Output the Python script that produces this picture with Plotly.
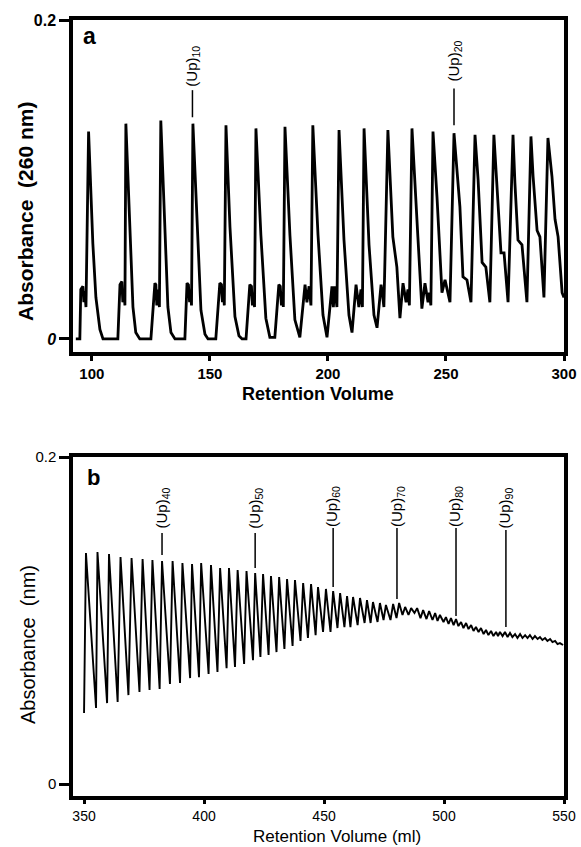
import plotly.graph_objects as go

# ---------------- Panel a : (Up)n oligomers, 92-300 ml ----------------
a_x = [93.2, 94.9, 95.3, 96.2, 96.6, 97.0, 97.5, 98.6, 100.4, 101.7, 103.4, 104.7, 111.0,
       111.9, 112.7, 113.1, 113.6, 114.0, 114.4, 116.1, 117.4, 118.6, 120.3, 125.0,
       126.7, 127.1, 127.5, 128.0, 128.6, 129.2, 130.9, 132.2, 133.5, 135.2, 139.4,
       140.3, 140.9, 141.4, 141.8, 142.2, 142.8, 144.9, 146.2, 147.9, 149.2, 152.5,
       154.2, 154.9, 155.3, 155.7, 156.1, 156.8, 158.5, 160.6, 162.3, 163.6, 165.3,
       166.9, 167.6, 168.0, 168.4, 168.9, 169.5, 171.6, 173.7, 175.4, 177.5,
       179.2, 179.8, 180.3, 180.7, 181.1, 181.8, 183.9, 186.0, 188.1,
       190.3, 191.1, 192.0, 192.8, 193.6, 195.8, 197.9, 199.6,
       201.7, 202.3, 202.9, 203.8, 204.7, 206.8, 208.9, 210.2,
       211.9, 213.1, 214.0, 214.6, 215.3, 217.4, 219.5, 220.8,
       222.5, 223.1, 223.7, 225.4, 226.3, 227.5, 229.2, 230.5,
       231.8, 233.1, 233.9, 234.5, 235.6, 236.9, 238.1, 239.8,
       241.1, 242.4, 243.0, 243.6, 244.5, 246.2, 248.3, 249.6, 251.7,
       253.4, 255.9, 257.2, 258.9, 260.6,
       262.3, 263.6, 265.3, 266.9, 268.6,
       270.3, 272.0, 273.3, 274.6, 276.3,
       278.4, 279.2, 280.5, 282.2, 284.3,
       286.0, 286.9, 288.6, 289.8, 291.5,
       293.2, 294.9, 296.2, 297.5, 299.2, 300.0]
a_y = [0.0, 0.0, 0.031, 0.033, 0.023, 0.030, 0.020, 0.130, 0.060, 0.026, 0.006, 0.0, 0.0,
       0.034, 0.036, 0.023, 0.031, 0.021, 0.135, 0.064, 0.020, 0.004, 0.0, 0.0,
       0.035, 0.034, 0.021, 0.031, 0.020, 0.137, 0.066, 0.020, 0.004, 0.0, 0.0,
       0.035, 0.034, 0.023, 0.031, 0.021, 0.135, 0.060, 0.018, 0.003, 0.0, 0.0,
       0.035, 0.034, 0.023, 0.031, 0.021, 0.134, 0.070, 0.014, 0.002, 0.0, 0.0,
       0.034, 0.033, 0.021, 0.029, 0.020, 0.132, 0.065, 0.013, 0.001, 0.001,
       0.034, 0.033, 0.021, 0.029, 0.020, 0.133, 0.065, 0.012, 0.001,
       0.034, 0.023, 0.033, 0.021, 0.134, 0.065, 0.015, 0.001,
       0.033, 0.020, 0.033, 0.020, 0.131, 0.062, 0.015, 0.004,
       0.034, 0.020, 0.031, 0.020, 0.132, 0.059, 0.015, 0.007,
       0.034, 0.028, 0.020, 0.131, 0.102, 0.064, 0.045, 0.013,
       0.035, 0.023, 0.031, 0.021, 0.132, 0.092, 0.064, 0.019,
       0.035, 0.023, 0.029, 0.021, 0.130, 0.089, 0.029, 0.037, 0.023,
       0.129, 0.083, 0.039, 0.037, 0.023,
       0.128, 0.100, 0.048, 0.045, 0.023,
       0.128, 0.089, 0.054, 0.054, 0.023,
       0.128, 0.098, 0.062, 0.059, 0.023,
       0.127, 0.102, 0.068, 0.064, 0.026,
       0.126, 0.102, 0.075, 0.064, 0.029, 0.026]
assert len(a_x) == len(a_y), (len(a_x), len(a_y))

a_labels = ["(Up)<sub>10</sub>", "(Up)<sub>20</sub>"]
a_label_x = [142.6, 253.4]
a_label_line_top = [0.156, 0.157]
a_label_line_bottom = [0.139, 0.134]
a_label_text_y = [0.171, 0.174]

# ---------------- Panel b : (Up)33 ... (Up)100, 345-550 ml ----------------
b_peak_x = [350.8, 355.6, 360.4, 365.2, 369.8, 374.4, 378.5, 382.5, 386.9, 391.0,
            395.0, 398.8, 402.9, 406.7, 410.4, 414.0, 417.7, 421.3, 424.6, 427.9,
            431.3, 434.6, 437.9, 441.3, 444.6, 447.5, 450.8, 453.8, 456.7, 459.6,
            462.1, 465.0, 467.9, 470.4, 473.3, 475.8, 478.8, 481.3, 483.8, 486.3,
            488.8, 491.3, 493.8, 496.3, 498.3, 500.8, 502.9, 505.0, 507.1, 509.2,
            511.3, 513.3, 515.4, 517.5, 519.6, 521.7, 523.3, 525.4, 527.5, 529.6,
            531.7, 533.8, 535.8, 537.9, 540.0, 542.1, 544.2, 546.3, 548.3]
b_peak_y = [0.1413, 0.1419, 0.1407, 0.1388, 0.1382, 0.1376, 0.1370, 0.1364, 0.1364, 0.1352,
            0.1346, 0.1352, 0.1339, 0.1321, 0.1321, 0.1309, 0.1303, 0.1291, 0.1284, 0.1272,
            0.1266, 0.1254, 0.1248, 0.1229, 0.1223, 0.1205, 0.1193, 0.1180, 0.1168, 0.1150,
            0.1144, 0.1138, 0.1125, 0.1113, 0.1107, 0.1095, 0.1101, 0.1107, 0.1083, 0.1076,
            0.1076, 0.1064, 0.1058, 0.1046, 0.1034, 0.1021, 0.1015, 0.1009, 0.0991, 0.0985,
            0.0972, 0.0960, 0.0954, 0.0942, 0.0936, 0.0930, 0.0930, 0.0930, 0.0924, 0.0917,
            0.0917, 0.0911, 0.0911, 0.0905, 0.0899, 0.0893, 0.0887, 0.0875, 0.0862]
b_trough_x = [350.0, 355.0, 359.6, 364.0, 368.5, 373.1, 377.3, 381.5, 385.8, 390.0,
              394.2, 397.9, 401.9, 405.6, 409.4, 412.9, 416.7, 420.4, 423.5, 426.9,
              430.2, 433.5, 436.9, 440.2, 443.3, 446.5, 449.6, 452.7, 455.6, 458.5,
              461.0, 464.0, 466.9, 469.4, 472.3, 474.8, 477.7, 480.2, 482.7, 485.2,
              487.7, 490.2, 492.7, 495.2, 497.3, 499.8, 501.9, 504.0, 506.0, 508.1,
              510.2, 512.3, 514.4, 516.5, 518.5, 520.6, 522.5, 524.4, 526.5, 528.5,
              530.6, 532.7, 534.8, 536.9, 539.0, 541.0, 543.1, 545.2, 547.3, 549.6]
b_trough_y = [0.0434, 0.0465, 0.0495, 0.0502, 0.0544, 0.0563, 0.0575, 0.0581, 0.0612, 0.0618,
              0.0648, 0.0654, 0.0673, 0.0685, 0.0709, 0.0716, 0.0734, 0.0758, 0.0777, 0.0789,
              0.0807, 0.0826, 0.0844, 0.0875, 0.0893, 0.0911, 0.0930, 0.0930, 0.0954, 0.0960,
              0.0960, 0.0972, 0.0985, 0.0985, 0.0991, 0.1003, 0.1003, 0.1015, 0.1034, 0.1034,
              0.1046, 0.1015, 0.1009, 0.1003, 0.0997, 0.0991, 0.0979, 0.0972, 0.0966, 0.0954,
              0.0948, 0.0936, 0.0930, 0.0917, 0.0911, 0.0905, 0.0905, 0.0905, 0.0899, 0.0899,
              0.0893, 0.0893, 0.0893, 0.0887, 0.0887, 0.0881, 0.0875, 0.0868, 0.0856, 0.0850]
assert len(b_peak_x) == len(b_peak_y) == 69
assert len(b_trough_x) == len(b_trough_y) == 70

b_labels = ["(Up)<sub>40</sub>", "(Up)<sub>50</sub>", "(Up)<sub>60</sub>",
            "(Up)<sub>70</sub>", "(Up)<sub>80</sub>", "(Up)<sub>90</sub>"]
b_label_x = [382.5, 421.3, 453.8, 480.4, 505.0, 525.8]
b_label_line_top = [0.1535, 0.1535, 0.1566, 0.1566, 0.1566, 0.1553]
b_label_line_bottom = [0.1401, 0.1321, 0.1205, 0.1131, 0.1027, 0.0960]
b_label_text_y = [0.1685, 0.1685, 0.1695, 0.1700, 0.1695, 0.1690]

# interleave troughs and peaks into one trace for panel b
b_x, b_y = [], []
for i in range(len(b_peak_x)):
    b_x += [b_trough_x[i], b_peak_x[i]]
    b_y += [b_trough_y[i], b_peak_y[i]]
b_x.append(b_trough_x[-1])
b_y.append(b_trough_y[-1])

W, H = 581, 847
FONT = "Liberation Sans"

fig = go.Figure()
fig.add_trace(go.Scatter(x=a_x, y=a_y, mode="lines", line=dict(color="black", width=2.8),
                         xaxis="x", yaxis="y", showlegend=False, hoverinfo="skip"))
fig.add_trace(go.Scatter(x=b_x, y=b_y, mode="lines", line=dict(color="black", width=1.9),
                         xaxis="x2", yaxis="y2", showlegend=False, hoverinfo="skip"))

axis_common = dict(showgrid=False, zeroline=False, showline=True, linecolor="black",
                   linewidth=3.5, mirror=True, ticks="outside", tickcolor="black",
                   tickwidth=2.5, automargin=False)

fig.update_layout(
    width=W, height=H, margin=dict(l=0, r=0, t=0, b=0, pad=0, autoexpand=False),
    paper_bgcolor="white", plot_bgcolor="white",
    xaxis=dict(domain=[73 / W, 564 / W], range=[92, 300], anchor="y",
               tickvals=[100, 150, 200, 250, 300], ticklen=5,
               tickfont=dict(family=FONT, size=15, color="black", weight="bold"),
               **axis_common),
    yaxis=dict(domain=[(H - 352) / H, (H - 20) / H], range=[-0.0082, 0.2], anchor="x",
               tickvals=[0, 0.2], ticktext=["<i>0</i>", "0.2"], ticklen=10,
               tickfont=dict(family=FONT, size=16, color="black", weight="bold"),
               **axis_common),
    xaxis2=dict(domain=[73 / W, 564 / W], range=[345.4, 550], anchor="y2",
                tickvals=[350, 400, 450, 500, 550], ticklen=4,
                tickfont=dict(family=FONT, size=14, color="black"),
                **axis_common),
    yaxis2=dict(domain=[(H - 796) / H, (H - 457) / H], range=[-0.0073, 0.2], anchor="x2",
                tickvals=[0, 0.2], ticktext=["0", "0.2"], ticklen=10,
                tickfont=dict(family=FONT, size=15, color="black"),
                **axis_common),
)

def pa(text, px, py, size, angle=0):
    return dict(text=text, x=px / W, y=1 - py / H, xref="paper", yref="paper",
                xanchor="center", yanchor="middle", showarrow=False, textangle=angle,
                font=dict(family=FONT, size=size, color="black"))

ann = [
    pa("<b>Retention Volume</b>", 318, 394, 18),
    pa("<b>Absorbance  (260 nm)</b>", 25, 212, 21, -90),
    pa("Retention Volume (ml)", 337, 836, 17),
    pa("Absorbance  (nm)", 28, 645, 20, -90),
    pa("<b>a</b>", 89, 36, 23),
    pa("<b>b</b>", 93, 477, 22),
]

shapes = []
for lab, lx, lt, lb, ty in zip(a_labels, a_label_x, a_label_line_top, a_label_line_bottom, a_label_text_y):
    ann.append(dict(text=lab, x=lx, y=ty, xref="x", yref="y", showarrow=False, textangle=-90,
                    xanchor="center", yanchor="middle",
                    font=dict(family=FONT, size=15, color="black")))
    shapes.append(dict(type="line", xref="x", yref="y", x0=lx, x1=lx, y0=lb, y1=lt,
                       line=dict(color="black", width=1.5)))
for lab, lx, lt, lb, ty in zip(b_labels, b_label_x, b_label_line_top, b_label_line_bottom, b_label_text_y):
    ann.append(dict(text=lab, x=lx, y=ty, xref="x2", yref="y2", showarrow=False, textangle=-90,
                    xanchor="center", yanchor="middle",
                    font=dict(family=FONT, size=15, color="black")))
    shapes.append(dict(type="line", xref="x2", yref="y2", x0=lx, x1=lx, y0=lb, y1=lt,
                       line=dict(color="black", width=1.5)))

fig.update_layout(annotations=ann, shapes=shapes)
fig.write_html("out.html")
